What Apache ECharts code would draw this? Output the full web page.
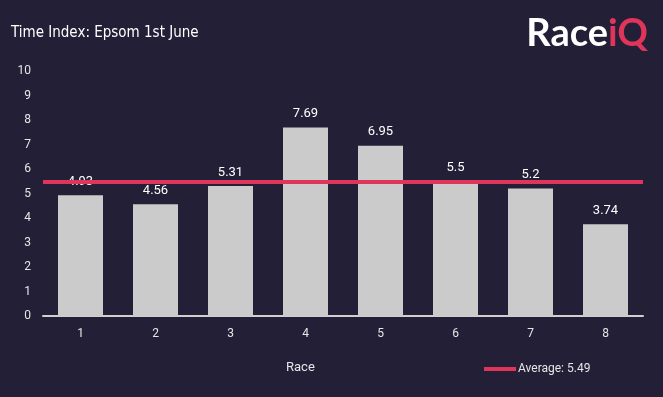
<!DOCTYPE html>
<html>
<head>
<meta charset="utf-8">
<script src="https://cdn.jsdelivr.net/npm/echarts@6/dist/echarts.min.js"></script>
<style>
  html, body { margin: 0; padding: 0; background: #221f36; }
  #chart { width: 663px; height: 397px; }
</style>
</head>
<body>
<div id="chart"></div>
<script>
var races = ['1', '2', '3', '4', '5', '6', '7', '8']
var timeIndex = [4.93, 4.56, 5.31, 7.69, 6.95, 5.5, 5.2, 3.74]
var averageValue = 5.49
var yTicks = [0, 10, 1] // min, max, interval

var chart = echarts.init(document.getElementById('chart'))
chart.setOption({
  backgroundColor: '#221f36',
  animation: false,
  textStyle: { fontFamily: 'Roboto' },
  title: [
    {
      text: 'Time Index: Epsom 1st June',
      left: 6,
      top: 21,
      textStyle: { color: '#ffffff', fontSize: 15, fontWeight: 'normal', fontFamily: '"DejaVu Sans Condensed", Roboto' }
    },
    {
      text: '{w|Race}{p|iQ}',
      right: 10,
      top: 10,
      textStyle: {
        rich: {
          w: { color: '#ffffff', fontSize: 38, fontWeight: 'bold', fontFamily: 'Lato' },
          p: { color: '#e0355a', fontSize: 38, fontWeight: 'bold', fontFamily: 'Lato' }
        }
      }
    },
    {
      text: 'Race',
      left: 281,
      top: 356,
      textStyle: { color: '#e6e6e6', fontSize: 13, fontWeight: 'normal' }
    }
  ],
  legend: {
    data: ['Average: ' + averageValue],
    left: 479,
    top: 358,
    icon: 'rect',
    itemWidth: 32,
    itemHeight: 4,
    itemGap: 4,
    textStyle: { color: '#e6e6e6', fontSize: 12, padding: [0, 0, 0, -3] }
  },
  grid: { left: 43, right: 20, top: 71, bottom: 81 },
  xAxis: {
    type: 'category',
    data: races,
    axisLine: { lineStyle: { color: '#d0d0d0', width: 2 } },
    axisTick: { show: false },
    axisLabel: { color: '#e6e6e6', fontSize: 12, margin: 12 }
  },
  yAxis: {
    type: 'value',
    min: yTicks[0],
    max: yTicks[1],
    interval: yTicks[2],
    splitLine: { show: false },
    axisLine: { show: false },
    axisTick: { show: false },
    axisLabel: { color: '#e6e6e6', fontSize: 12, margin: 12 }
  },
  series: [
    {
      name: 'Time Index',
      type: 'bar',
      data: timeIndex,
      barWidth: '60%',
      itemStyle: { color: '#cbcbcb' },
      label: {
        show: true,
        position: 'top',
        distance: 7,
        color: '#ffffff',
        fontSize: 13
      }
    },
    {
      name: 'Average: ' + averageValue,
      type: 'line',
      data: [],
      color: '#e0355a',
      markLine: {
        symbol: ['none', 'none'],
        silent: true,
        label: { show: false },
        lineStyle: { color: '#e0355a', width: 4, type: 'solid' },
        data: [{ yAxis: averageValue }]
      }
    }
  ]
})
</script>
</body>
</html>
